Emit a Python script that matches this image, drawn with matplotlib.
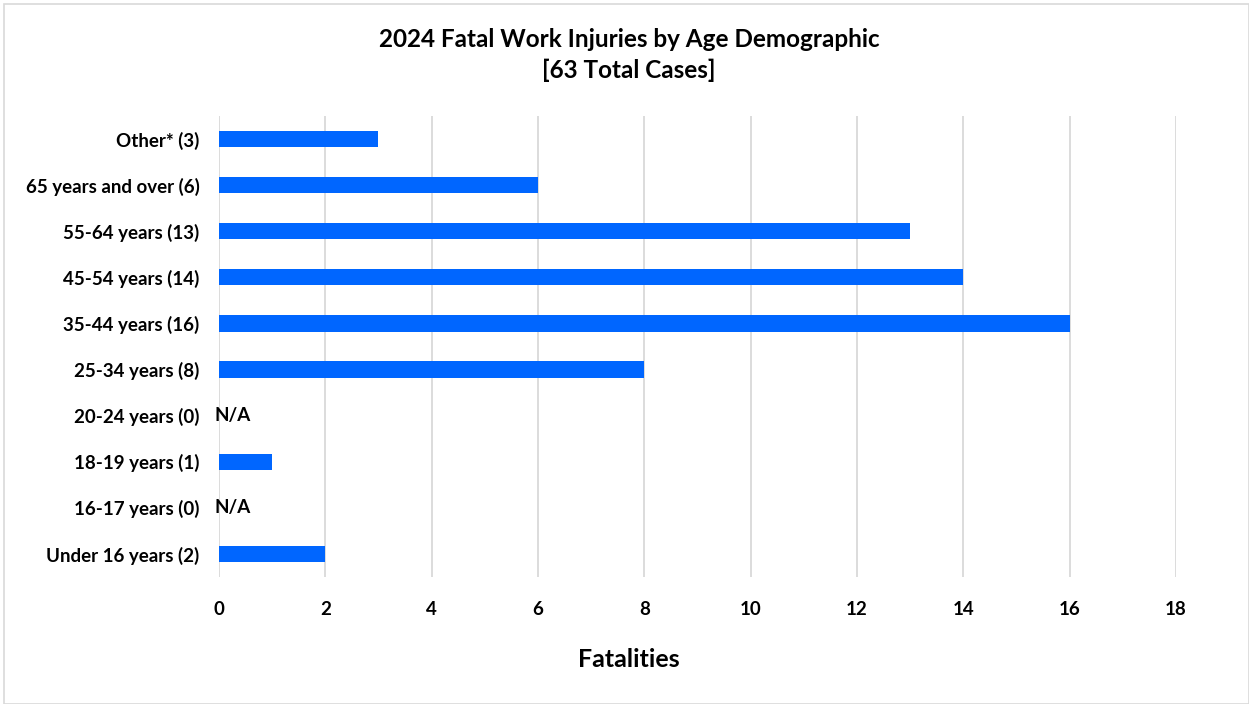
import matplotlib
matplotlib.use('Agg')
import matplotlib.pyplot as plt
from matplotlib.patches import Rectangle

# data (bottom to top)
categories = ['Under 16 years (2)', '16-17 years (0)', '18-19 years (1)', '20-24 years (0)',
              '25-34 years (8)', '35-44 years (16)', '45-54 years (14)', '55-64 years (13)',
              '65 years and over (6)', 'Other* (3)']
fatalities = [2, 0, 1, 0, 8, 16, 14, 13, 6, 3]
x_ticks = [0, 2, 4, 6, 8, 10, 12, 14, 16, 18]

plt.rcParams['font.family'] = ['Lato', 'DejaVu Sans']
plt.rcParams['font.weight'] = 'bold'

fig = plt.figure(figsize=(12.49, 7.04), dpi=100)
ax = fig.add_axes([0.1753, 0.1804, 0.7663, 0.6548])

ypos = list(range(len(categories)))
ax.barh(ypos, fatalities, height=0.35, color='#0066FF', zorder=3)

# N/A labels for the empty rows
for y, v in zip(ypos, fatalities):
    if v == 0:
        ax.text(-0.08, y, 'N/A', ha='left', va='center', fontsize=13.5, fontweight='bold')

ax.set_xlim(0, 18)
ax.set_ylim(-0.5, len(categories) - 0.5)
ax.set_xticks(x_ticks)
ax.set_yticks(ypos)
ax.set_yticklabels(categories)
ax.tick_params(axis='both', length=0, labelsize=13.5)
ax.tick_params(axis='x', pad=17)
ax.tick_params(axis='y', pad=14)
for lab in ax.get_xticklabels() + ax.get_yticklabels():
    lab.set_fontweight('bold')

ax.grid(axis='x', color='#d9d9d9', linewidth=1.3, zorder=0)
for s in ax.spines.values():
    s.set_visible(False)

ax.set_xlabel('Fatalities', fontsize=18, fontweight='bold')
ax.xaxis.set_label_coords(0.428, -0.154)

fig.text(0.5036, 0.922, '2024 Fatal Work Injuries by Age Demographic\n[63 Total Cases]',
         ha='center', va='center', fontsize=17.5, fontweight='bold', linespacing=1.4)

# light frame around the chart
fig.patches.append(Rectangle((0.003, 0.0), 0.997, 0.995, transform=fig.transFigure,
                             fill=False, edgecolor='#d9d9d9', linewidth=1.2))

fig.savefig('out.png', dpi=100)
